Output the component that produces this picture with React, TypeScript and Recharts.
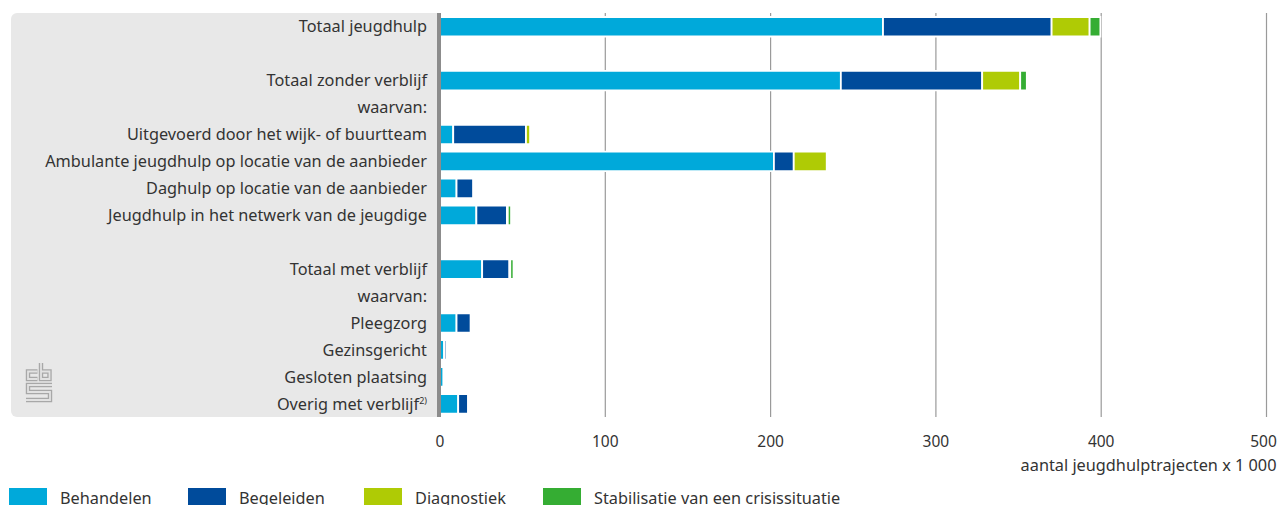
import { BarChart, Bar, XAxis, YAxis, CartesianGrid, Legend } from "recharts";

const categories = [
  "Totaal jeugdhulp",
  "",
  "Totaal zonder verblijf",
  "waarvan:",
  "Uitgevoerd door het wijk- of buurtteam",
  "Ambulante jeugdhulp op locatie van de aanbieder",
  "Daghulp op locatie van de aanbieder",
  "Jeugdhulp in het netwerk van de jeugdige",
  "",
  "Totaal met verblijf",
  "waarvan:",
  "Pleegzorg",
  "Gezinsgericht",
  "Gesloten plaatsing",
  "Overig met verblijf",
];
const behandelen = [268, 0, 242.5, 0, 8, 202, 10, 22, 0, 25.5, 0, 10, 2.5, 2, 11];
const begeleiden = [102, 0, 85.5, 0, 44, 12, 10, 18.5, 0, 16.5, 0, 8.5, 1.3, 0, 6];
const diagnostiek = [23, 0, 23, 0, 2.5, 20, 0, 0.5, 0, 0.5, 0, 0, 0, 0, 0];
const stabilisatie = [6.5, 0, 4, 0, 0, 0.3, 0, 2, 0, 2, 0, 0, 0, 0, 0.5];
const xTicks = [0, 100, 200, 300, 400, 500];

const data = categories.map((name, i) => ({
  id: i,
  name,
  behandelen: behandelen[i],
  begeleiden: begeleiden[i],
  diagnostiek: diagnostiek[i],
  stabilisatie: stabilisatie[i],
}));

const FONT = "'Noto Sans', sans-serif";
const TEXT = "#333333";
const FONT_SIZE = 16.3;

function CategoryTick({ y, payload }: any) {
  const label = categories[payload.value];
  return (
    <text x={427} y={y} dy={6} textAnchor="end" fill={TEXT} fontSize={FONT_SIZE} fontFamily={FONT}>
      {label}
      {label === "Overig met verblijf" && (
        <tspan fontSize={9} dy={-6}>2)</tspan>
      )}
    </text>
  );
}

function ValueTick({ x, y, payload }: any) {
  // last label is pulled in so it stays inside the page
  const shift = payload.value === 500 ? -3 : 0;
  return (
    <text x={x + shift} y={y} dy={14} textAnchor="middle" fill={TEXT} fontSize={15.5} fontFamily={FONT}>
      {payload.value}
    </text>
  );
}

const legendX = [9, 188, 364, 543];

function ChartLegend({ payload }: any) {
  return (
    <div style={{ position: "relative", height: 20, width: 1279 }}>
      {payload.map((p: any, i: number) => (
        <div key={p.value} style={{ position: "absolute", left: legendX[i], top: 0, whiteSpace: "nowrap" }}>
          <span style={{ position: "absolute", left: 0, top: 0, width: 38, height: 17, background: p.color }} />
          <span style={{ position: "absolute", left: 51, top: -1, fontSize: FONT_SIZE, fontFamily: FONT, color: TEXT }}>
            {p.value}
          </span>
        </div>
      ))}
    </div>
  );
}

function CbsLogo() {
  const paths = [
    "M12.5 8.5H3V16H12.5",
    "M16 0V16H24.5V8.5H16",
    "M27 22H3V29H25V37H1",
  ];
  return (
    <svg width={28} height={40} viewBox="0 0 28 40" style={{ position: "absolute", left: 25, top: 363 }} fill="none">
      {paths.map((d) => (
        <path key={d} d={d} stroke="#a8a8a8" strokeWidth={4.4} />
      ))}
      {paths.map((d) => (
        <path key={d + "i"} d={d} stroke="#e2e2e2" strokeWidth={1.8} />
      ))}
    </svg>
  );
}

export default function App() {
  return (
    <div style={{ position: "absolute", left: 0, top: 0, width: 1279, height: 505, overflow: "hidden", background: "#fff" }}>
      <div style={{ position: "absolute", left: 11, top: 13, width: 426, height: 404, background: "#e8e8e8", borderRadius: "6px 0 0 6px" }} />
      <CbsLogo />
      <div style={{ position: "absolute", left: 0, top: 0 }}>
        <BarChart
          width={1279}
          height={505}
          data={data}
          layout="vertical"
          barSize={19.5}
          margin={{ top: 13, right: 12.5, bottom: 0, left: 0 }}
        >
          <CartesianGrid horizontal={false} stroke="#9a9a9a" strokeWidth={1.2} />
          <XAxis
            type="number"
            domain={[0, 500]}
            ticks={xTicks}
            axisLine={false}
            tickLine={false}
            height={68}
            tickMargin={10}
            interval={0}
            tick={<ValueTick />}
            label={{
              value: "aantal jeugdhulptrajecten x 1 000",
              position: "insideBottomRight",
              offset: 0,
              dx: 10,
              dy: -14,
              fill: TEXT,
              fontSize: FONT_SIZE,
              fontFamily: FONT,
            }}
          />
          <YAxis
            type="category"
            dataKey="id"
            width={440}
            interval={0}
            axisLine={false}
            tickLine={false}
            tick={<CategoryTick />}
          />
          <Legend
            content={<ChartLegend />}
            itemSorter={null}
            wrapperStyle={{ left: 0, top: 488, width: 1279 }}
          />
          <Bar dataKey="behandelen" name="Behandelen" stackId="a" fill="#00a9da" stroke="#fff" strokeWidth={1.8} isAnimationActive={false} />
          <Bar dataKey="begeleiden" name="Begeleiden" stackId="a" fill="#004b9b" stroke="#fff" strokeWidth={1.8} isAnimationActive={false} />
          <Bar dataKey="diagnostiek" name="Diagnostiek" stackId="a" fill="#afcb05" stroke="#fff" strokeWidth={1.8} isAnimationActive={false} />
          <Bar dataKey="stabilisatie" name="Stabilisatie van een crisissituatie" stackId="a" fill="#35ad33" stroke="#fff" strokeWidth={1.8} isAnimationActive={false} />
        </BarChart>
      </div>
      <div style={{ position: "absolute", left: 437, top: 13, width: 4, height: 404, background: "#8c8c8c" }} />
    </div>
  );
}
